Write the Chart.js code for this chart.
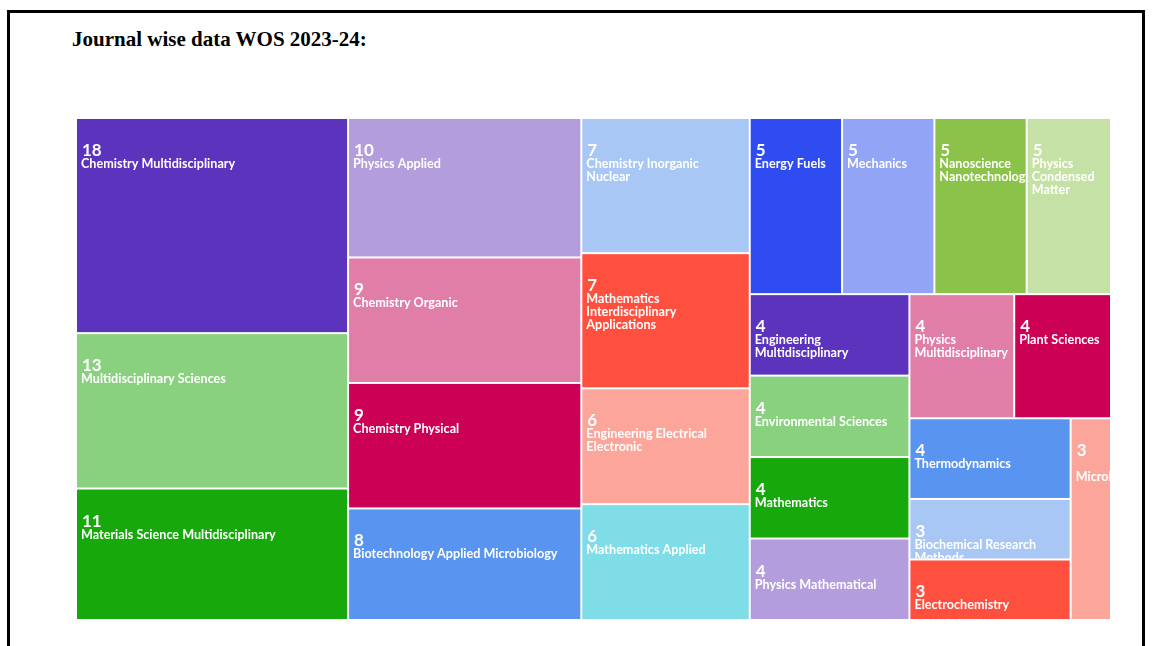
<!DOCTYPE html>
<html>
<head>
<meta charset="utf-8">
<script src="https://cdn.jsdelivr.net/npm/chart.js@4.4.1/dist/chart.umd.min.js"></script>
<style>
  html, body { margin: 0; padding: 0; background: #fff; }
  body { width: 1152px; height: 646px; position: relative; overflow: hidden; }
  #frame { position: absolute; left: 7px; top: 10px; width: 1132px; height: 700px; border: 3px solid #000; border-bottom: none; }
  #title { position: absolute; left: 72px; top: 29px; font: bold 21px "Liberation Serif", "Times New Roman", serif; line-height: 1; color: #000; }
  /* the treemap runs a bit past the visible box, like the original page */
  #wrap { position: absolute; left: 0; top: 0; width: 1110px; height: 646px; overflow: hidden; }
</style>
</head>
<body>
<div id="frame"></div>
<div id="title">Journal wise data WOS 2023-24:</div>
<div id="wrap"><canvas id="treeChart" width="1152" height="646"></canvas></div>
<script>
// journal categories and number of papers, biggest first
const categories = [
  "Chemistry Multidisciplinary", "Multidisciplinary Sciences", "Materials Science Multidisciplinary",
  "Physics Applied", "Chemistry Organic", "Chemistry Physical", "Biotechnology Applied Microbiology",
  "Chemistry Inorganic Nuclear", "Mathematics Interdisciplinary Applications",
  "Engineering Electrical Electronic", "Mathematics Applied",
  "Energy Fuels", "Mechanics", "Nanoscience Nanotechnology", "Physics Condensed Matter",
  "Engineering Multidisciplinary", "Environmental Sciences", "Mathematics", "Physics Mathematical",
  "Physics Multidisciplinary", "Plant Sciences", "Thermodynamics",
  "Biochemical Research Methods", "Electrochemistry", "Microbiology"
];
const counts = [18, 13, 11, 10, 9, 9, 8, 7, 7, 6, 6, 5, 5, 5, 5, 4, 4, 4, 4, 4, 4, 4, 3, 3, 3];

const palette = [
  "#5c33bd", "#89d17f", "#17a80c", "#b39ddc", "#e07ea8", "#cc0055", "#5995f0",
  "#a9c7f5", "#ff503f", "#fca69b", "#7fdde8", "#2f4cf0", "#91a4f6", "#8bc34a", "#c5e1a6"
];

const LAYOUT_W = 1043;
const LAYOUT_H = 502;
const PHI = (1 + Math.sqrt(5)) / 2;

// squarified layout (same rule as d3.treemapSquarify)
function squarify(values, x0, y0, x1, y1) {
  const out = [];
  let value = values.reduce((a, b) => a + b, 0);
  let i0 = 0, i1 = 0;
  const n = values.length;
  while (i0 < n) {
    const dx = x1 - x0, dy = y1 - y0;
    let sumValue = values[i1++];
    let minValue = sumValue, maxValue = sumValue;
    const alpha = Math.max(dy / dx, dx / dy) / (value * PHI);
    let beta = sumValue * sumValue * alpha;
    let minRatio = Math.max(maxValue / beta, beta / minValue);
    for (; i1 < n; ++i1) {
      const v = values[i1];
      sumValue += v;
      if (v < minValue) minValue = v;
      if (v > maxValue) maxValue = v;
      beta = sumValue * sumValue * alpha;
      const newRatio = Math.max(maxValue / beta, beta / minValue);
      if (newRatio > minRatio) { sumValue -= v; break; }
      minRatio = newRatio;
    }
    const row = values.slice(i0, i1);
    if (dx < dy) {
      // horizontal row along the top
      const yEnd = i1 < n ? y0 + dy * sumValue / value : y1;
      let cx = x0;
      row.forEach((v, k) => {
        const w = dx * v / sumValue;
        out.push({ x0: cx, y0: y0, x1: cx + w, y1: yEnd, i: i0 + k });
        cx += w;
      });
      y0 = yEnd;
    } else {
      // vertical column on the left
      const xEnd = i1 < n ? x0 + dx * sumValue / value : x1;
      let cy = y0;
      row.forEach((v, k) => {
        const h = dy * v / sumValue;
        out.push({ x0: x0, y0: cy, x1: xEnd, y1: cy + h, i: i0 + k });
        cy += h;
      });
      x0 = xEnd;
    }
    value -= sumValue;
    i0 = i1;
  }
  return out;
}

function wrapWords(ctx, text, maxW) {
  const words = text.split(" ");
  const lines = [];
  let line = "";
  words.forEach(w => {
    const test = line ? line + " " + w : w;
    if (ctx.measureText(test).width > maxW) {
      lines.push(line);
      line = w;
    } else {
      line = test;
    }
  });
  lines.push(line);
  return lines;
}

const treemapPlugin = {
  id: "treemapCells",
  afterDatasetsDraw(chart) {
    const ctx = chart.ctx;
    const xs = chart.scales.x, ys = chart.scales.y;
    const ds = chart.data.datasets[0];
    const cells = squarify(ds.tree, 0, 0, xs.max, ys.max);
    ctx.save();
    cells.forEach(c => {
      const left = xs.getPixelForValue(c.x0) + 1;
      const right = xs.getPixelForValue(c.x1) - 1;
      const top = ys.getPixelForValue(c.y0) + 1;
      const bottom = ys.getPixelForValue(c.y1) - 1;
      ctx.fillStyle = ds.backgroundColor[c.i % ds.backgroundColor.length];
      ctx.fillRect(left, top, right - left, bottom - top);

      ctx.save();
      ctx.beginPath();
      ctx.rect(left, top, right - left, bottom - top);
      ctx.clip();
      ctx.fillStyle = "#ffffff";
      ctx.textBaseline = "alphabetic";
      ctx.font = "bold 17px Lato, 'Open Sans', sans-serif";
      ctx.fillText(String(ds.tree[c.i]), left + 5, top + 37);
      ctx.font = "bold 12.6px Lato, 'Open Sans', sans-serif";
      const lines = wrapWords(ctx, chart.data.labels[c.i], right - left - 8);
      lines.forEach((ln, k) => ctx.fillText(ln, left + 4, top + 49 + k * 13));
      ctx.restore();
    });
    ctx.restore();
  }
};

new Chart(document.getElementById("treeChart"), {
  type: "scatter",
  data: {
    labels: categories,
    datasets: [{
      label: "Journals",
      data: [],
      tree: counts,
      backgroundColor: palette
    }]
  },
  options: {
    responsive: false,
    animation: false,
    layout: { padding: { left: 76, right: 33, top: 118, bottom: 26 } },
    plugins: { legend: { display: false }, tooltip: { enabled: false } },
    scales: {
      x: { type: "linear", min: 0, max: LAYOUT_W, display: false },
      y: { type: "linear", min: 0, max: LAYOUT_H, reverse: true, display: false }
    }
  },
  plugins: [treemapPlugin]
});
</script>
</body>
</html>
